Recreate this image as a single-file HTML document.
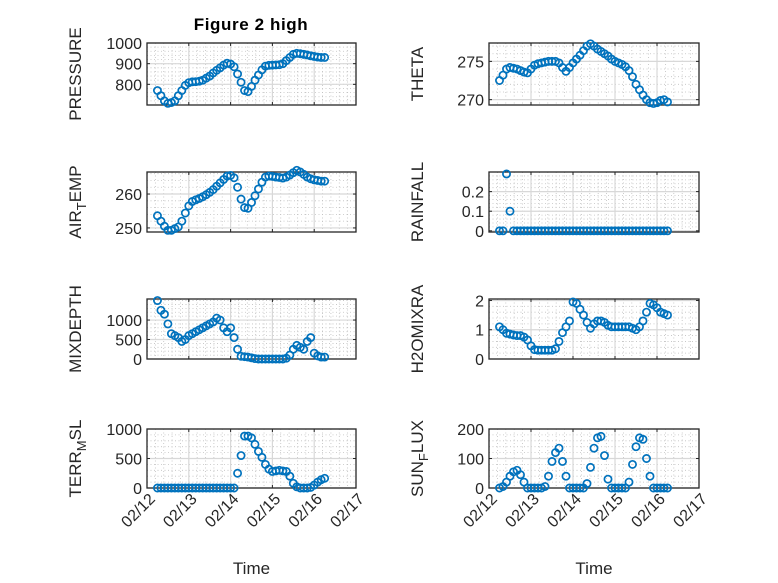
<!DOCTYPE html>
<html><head><meta charset="utf-8">
<style>
html,body{margin:0;padding:0;background:#fff;}
svg{display:block;font-family:"Liberation Sans",sans-serif;}
</style></head>
<body>
<svg id="fig" width="778" height="583" viewBox="0 0 778 583" xmlns="http://www.w3.org/2000/svg">
<rect width="778" height="583" fill="#fff"/>
<text x="251" y="30" text-anchor="middle" font-size="17" font-weight="bold" letter-spacing="0.6" fill="#000">Figure 2 high</text>
</svg>
<script>
// time offsets in days from 02/12 00:00 (2-hour steps)
const days = [];
for (let k = 0; k < 49; k++) days.push(0.25 + k / 12);
const xTickLabels = ["02/12","02/13","02/14","02/15","02/16","02/17"];
const pressure = [770,745,720,708,712,720,745,770,795,808,812,813,815,820,830,840,855,868,880,893,902,898,885,850,810,770,765,790,820,845,870,888,892,893,894,895,900,915,930,945,950,948,945,942,938,935,932,930,930];
const theta = [272.5,273.2,274,274.2,274.1,274,273.8,273.6,273.5,274,274.5,274.7,274.8,274.9,275,275,275,274.8,274.2,273.7,274.2,274.8,275.3,275.8,276.4,277,277.3,277,276.6,276.3,276,275.7,275.3,275,274.8,274.6,274.3,273.8,273,272,271.3,270.6,270,269.6,269.5,269.6,269.9,270,269.7];
const airTemp = [253.6,252,250.5,249.3,249.3,249.8,250.3,252,254.4,256.5,257.8,258.3,258.7,259.2,259.8,260.5,261.3,262.3,263.3,264.3,265.3,265.5,264.8,262,258.5,256,255.8,257.5,259.5,261.5,263.5,265,265.3,265.2,265,264.9,264.7,265,265.6,266.3,267,266.5,265.8,265,264.5,264.2,264,263.8,263.8];
const rainfall = [0,0,0.29,0.1,0,0,0,0,0,0,0,0,0,0,0,0,0,0,0,0,0,0,0,0,0,0,0,0,0,0,0,0,0,0,0,0,0,0,0,0,0,0,0,0,0,0,0,0,0];
const mixDepth = [1500,1250,1150,900,650,600,550,450,500,600,650,700,750,800,850,900,950,1050,1000,800,700,800,550,250,70,60,50,30,10,0,0,0,0,0,0,0,0,20,100,250,350,300,250,450,550,150,80,50,50];
const h2oMix = [1.1,1.0,0.88,0.85,0.82,0.8,0.8,0.75,0.65,0.45,0.32,0.3,0.3,0.3,0.3,0.3,0.35,0.6,0.9,1.1,1.3,1.95,1.9,1.7,1.5,1.25,1.05,1.2,1.3,1.3,1.25,1.15,1.1,1.1,1.1,1.1,1.1,1.1,1.05,1.0,1.1,1.3,1.6,1.9,1.85,1.75,1.6,1.55,1.5];
const terrMsl = [0,0,0,0,0,0,0,0,0,0,0,0,0,0,0,0,0,0,0,0,0,0,0,250,550,880,880,850,740,620,520,400,320,280,290,300,290,280,200,80,20,0,0,0,10,50,100,140,165];
const sunFlux = [0,5,20,40,55,60,45,20,0,0,0,0,0,5,40,90,120,135,90,40,0,0,0,0,0,15,70,135,170,175,110,30,0,0,0,0,0,20,80,140,170,165,100,40,0,0,0,0,0];

const NS = "http://www.w3.org/2000/svg";
const svg = document.getElementById('fig');
function mk(tag, attrs, parent) {
  const e = document.createElementNS(NS, tag);
  for (const k in attrs) e.setAttribute(k, attrs[k]);
  (parent || svg).appendChild(e);
  return e;
}
const panels = [
  {name:"pressure", label:"PRESSURE", data:pressure, x0:147,x1:356,y0:43,y1:105, ymin:700,ymax:1000, ticks:[800,900,1000], xl:false},
  {name:"theta", label:"THETA", data:theta, x0:489,x1:699,y0:43,y1:105, ymin:269.3,ymax:277.4, ticks:[270,275], xl:false},
  {name:"air-temp", label:["AIR","T","EMP"], data:airTemp, x0:147,x1:356,y0:172,y1:232, ymin:248.8,ymax:266.5, ticks:[250,260], xl:false},
  {name:"rainfall", label:"RAINFALL", data:rainfall, x0:489,x1:699,y0:172,y1:232, ymin:-0.006,ymax:0.3, ticks:[0,0.1,0.2], xl:false},
  {name:"mixdepth", label:"MIXDEPTH", data:mixDepth, x0:147,x1:356,y0:299,y1:359, ymin:0,ymax:1540, ticks:[0,500,1000], xl:false},
  {name:"h2omixra", label:"H2OMIXRA", data:h2oMix, x0:489,x1:699,y0:299,y1:359, ymin:0,ymax:2.05, ticks:[0,1,2], xl:false},
  {name:"terr-msl", label:["TERR","M","SL"], data:terrMsl, x0:147,x1:356,y0:429,y1:488, ymin:0,ymax:1000, ticks:[0,500,1000], xl:true},
  {name:"sun-flux", label:["SUN","F","LUX"], data:sunFlux, x0:489,x1:699,y0:429,y1:488, ymin:0,ymax:200, ticks:[0,100,200], xl:true}
];
panels.forEach(p => {
  const g = mk('g', {});
  
  
  const xs = d => p.x0 + (d / 5) * (p.x1 - p.x0);
  const ys = v => p.y1 - (v - p.ymin) / (p.ymax - p.ymin) * (p.y1 - p.y0);
  for (let i = 0; i <= 25; i++) {
    if (i % 5 === 0) continue;
    const x = xs(i / 5);
    mk('line', {x1:x,x2:x,y1:p.y0,y2:p.y1,stroke:'#c0c0c0','stroke-width':0.8,'stroke-dasharray':'1,2.5'}, g);
  }
  const step = p.ticks[1] - p.ticks[0];
  for (let v = p.ticks[0] - step; v <= p.ymax + 1e-9; v += step / 5) {
    if (v < p.ymin) continue;
    const y = ys(v);
    mk('line', {x1:p.x0,x2:p.x1,y1:y,y2:y,stroke:'#c0c0c0','stroke-width':0.8,'stroke-dasharray':'1,2.5'}, g);
  }
  for (let i = 1; i < 5; i++) {
    const x = xs(i);
    mk('line', {x1:x,x2:x,y1:p.y0,y2:p.y1,stroke:'#d8d8d8','stroke-width':1.2}, g);
  }
  p.ticks.forEach(v => {
    const y = ys(v);
    mk('line', {x1:p.x0,x2:p.x1,y1:y,y2:y,stroke:'#d8d8d8','stroke-width':1.2}, g);
    mk('line', {x1:p.x0,x2:p.x0+3,y1:y,y2:y,stroke:'#262626','stroke-width':1}, g);
    mk('line', {x1:p.x1,x2:p.x1-3,y1:y,y2:y,stroke:'#262626','stroke-width':1}, g);
    const t = mk('text', {x:p.x0-5,y:y+6,'text-anchor':'end','font-size':16,fill:'#262626'}, g);
    
    
    t.textContent = String(v);
  });
  for (let i = 0; i <= 5; i++) {
    const x = xs(i);
    mk('line', {x1:x,x2:x,y1:p.y1,y2:p.y1-3,stroke:'#262626','stroke-width':1}, g);
    mk('line', {x1:x,x2:x,y1:p.y0,y2:p.y0+3,stroke:'#262626','stroke-width':1}, g);
    if (p.xl) {
      const ax = x + 9, ay = p.y1 + 12;
      const t = mk('text', {x:ax,y:ay,'text-anchor':'end','font-size':16,fill:'#262626',transform:`rotate(-45 ${ax} ${ay})`}, g);
      
      
      t.textContent = xTickLabels[i];
    }
  }
  mk('rect', {x:p.x0,y:p.y0,width:p.x1-p.x0,height:p.y1-p.y0,fill:'none',stroke:'#262626','stroke-width':1.3}, g);
  const lx = p.x0 - 66, ly = (p.y0 + p.y1) / 2;
  const lab = mk('text', {x:lx,y:ly,'text-anchor':'middle','font-size':17,fill:'#262626',transform:`rotate(-90 ${lx} ${ly})`}, g);
  
  
  if (Array.isArray(p.label)) {
    const a = mk('tspan', {}, lab); a.textContent = p.label[0];
    const b = mk('tspan', {dy:5,'font-size':13}, lab); b.textContent = p.label[1];
    const c = mk('tspan', {dy:-5}, lab); c.textContent = p.label[2];
  } else lab.textContent = p.label;
  if (p.xl) {
    const tt = mk('text', {x:(p.x0+p.x1)/2,y:574,'text-anchor':'middle','font-size':17,fill:'#262626'}, g);
    
    
    tt.textContent = 'Time';
  }
  const sg = mk('g', {fill:'none',stroke:'#0072BD','stroke-width':1.7}, g);
  
  
  p.data.forEach((v, i) => {
    const c = mk('circle', {cx:xs(days[i]),cy:ys(v),r:3.6}, sg);
    
    
  });
});
</script>
</body></html>
